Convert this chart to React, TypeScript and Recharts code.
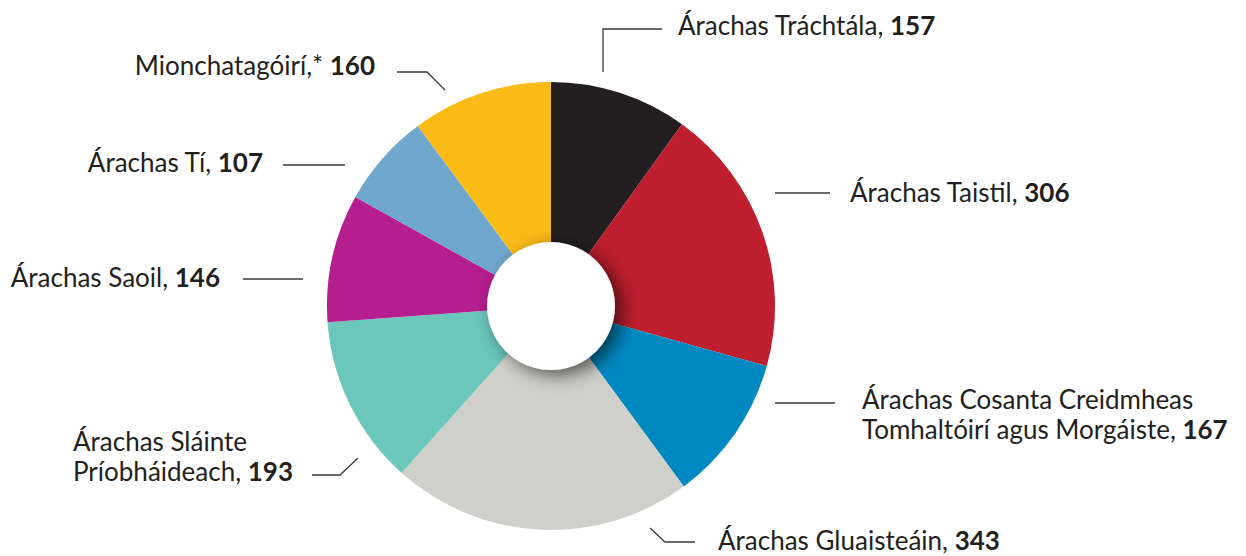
import React from "react";
import { PieChart, Pie, Cell } from "recharts";

const categories = [
  "Árachas Tráchtála",
  "Árachas Taistil",
  "Árachas Cosanta Creidmheas\nTomhaltóirí agus Morgáiste",
  "Árachas Gluaisteáin",
  "Árachas Sláinte\nPríobháideach",
  "Árachas Saoil",
  "Árachas Tí",
  "Mionchatagóirí,*",
];
const counts = [157, 306, 167, 343, 193, 146, 107, 160];
const colors = ["#231f20", "#be1e2d", "#0089c1", "#cfd0cb", "#6cc7bb", "#b51e8f", "#70a8cd", "#fbbb16"];

// label placement relative to pie centre: leader line points, text anchor point
type LabelLayout = { line: [number, number][]; tx: number; ty: number; anchor: "start" | "end" };
const labelLayout: LabelLayout[] = [
  { line: [[52, -234], [52, -277], [111, -277]], tx: 127, ty: -271, anchor: "start" },
  { line: [[224, -113], [279, -113]], tx: 299, ty: -104, anchor: "start" },
  { line: [[224, 97], [284, 97]], tx: 311, ty: 103, anchor: "start" },
  { line: [[99, 222], [114, 236], [144, 236]], tx: 167, ty: 244, anchor: "start" },
  { line: [[-193, 152], [-211, 169], [-239, 169]], tx: -478, ty: 145, anchor: "start" },
  { line: [[-248, -27], [-308, -27]], tx: -331, ty: -19, anchor: "end" },
  { line: [[-206, -141], [-268, -141]], tx: -288, ty: -134, anchor: "end" },
  { line: [[-106, -216], [-124, -234], [-154, -234]], tx: -176, ty: -231, anchor: "end" },
];

const data = categories.map((name, i) => ({ name, value: counts[i] }));
const hole = [{ name: "hole", value: 1 }];

const renderLabel = (props: any) => {
  const { cx, cy, index } = props;
  const l = labelLayout[index];
  const lines = data[index].name.split("\n");
  const last = lines[lines.length - 1];
  const sep = last.endsWith("*") ? " " : ", ";
  const pts = l.line.map(([x, y]) => `${cx + x},${cy + y}`).join(" ");
  return (
    <g key={`lbl-${index}`}>
      <polyline points={pts} fill="none" stroke="#3a3a3a" strokeWidth={1.3} />
      <text
        x={cx + l.tx}
        y={cy + l.ty}
        textAnchor={l.anchor}
        fontFamily="Lato, sans-serif"
        fontSize={26}
        fill="#231f20"
      >
        {lines.map((s, i) => (
          <tspan key={i} x={cx + l.tx} dy={i === 0 ? 0 : 30}>
            {i === lines.length - 1 ? s + sep : s}
            {i === lines.length - 1 && <tspan fontWeight={700}>{data[index].value}</tspan>}
          </tspan>
        ))}
      </text>
    </g>
  );
};

export default function App() {
  return (
    <div style={{ position: "absolute", left: 0, top: 0, background: "#fff" }}>
      <PieChart width={1246} height={556} margin={{ top: 0, right: 0, bottom: 0, left: 0 }}>
        <defs>
          <filter id="holeShadow" x="-50%" y="-50%" width="200%" height="200%">
            <feDropShadow dx={7} dy={5} stdDeviation={9} floodColor="#000" floodOpacity={0.6} />
          </filter>
        </defs>
        <Pie
          data={data}
          dataKey="value"
          cx={551}
          cy={306}
          innerRadius={0}
          outerRadius={224}
          startAngle={90}
          endAngle={-270}
          stroke="none"
          label={renderLabel}
          labelLine={false}
          isAnimationActive={false}
        >
          {data.map((d, i) => (
            <Cell key={d.name} fill={colors[i]} />
          ))}
        </Pie>
        <Pie
          data={hole}
          dataKey="value"
          cx={551}
          cy={306}
          innerRadius={0}
          outerRadius={64}
          startAngle={90}
          endAngle={-270}
          stroke="none"
          isAnimationActive={false}
        >
          <Cell fill="#ffffff" filter="url(#holeShadow)" />
        </Pie>
      </PieChart>
    </div>
  );
}
